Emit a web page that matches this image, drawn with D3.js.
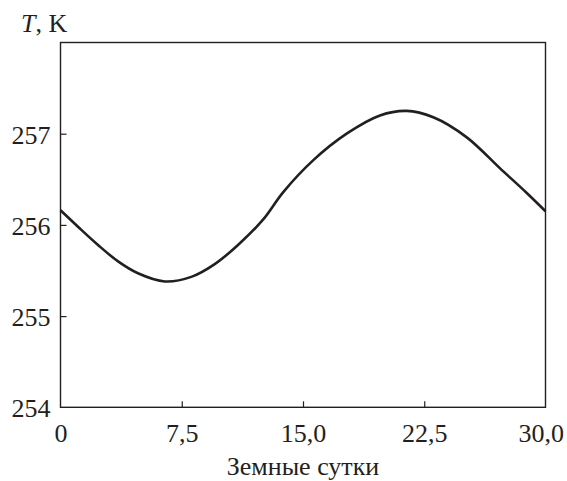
<!DOCTYPE html>
<html>
<head>
<meta charset="utf-8">
<script src="https://cdn.jsdelivr.net/npm/d3@7"></script>
<style>
  html, body { margin: 0; padding: 0; background: #fff; }
</style>
</head>
<body>
<svg id="chart" width="567" height="481"></svg>
<script>
// Surface temperature over one orbital period (Earth days)
const days  = [0, 1.08, 2.32, 3.56, 4.79, 6.45, 8.09, 9.54, 10.98, 12.54, 13.78, 15.64, 17.70, 19.76, 21.41, 23.06, 25.13, 27.19, 28.84, 30];
const temps = [256.16, 255.98, 255.78, 255.60, 255.47, 255.38, 255.43, 255.57, 255.78, 256.06, 256.36, 256.71, 257.00, 257.20, 257.25, 257.18, 256.96, 256.62, 256.35, 256.15];

const xTicks = [0, 7.5, 15, 22.5, 30];
const xTickLabels = ["0", "7,5", "15,0", "22,5", "30,0"];
const yTicks = [254, 255, 256, 257];
const yTickLabels = ["254", "255", "256", "257"];

const ink = "#231f20";
const serif = '"Liberation Serif"';
const svg = d3.select("#chart");
const plotLeft = 60.5, plotRight = 545.5, plotTop = 42.5, plotBottom = 407.3;

const x = d3.scaleLinear().domain([0, 30]).range([plotLeft, plotRight]);
const y = d3.scaleLinear().domain([254, 258]).range([plotBottom, plotTop]);

// frame
svg.append("rect")
  .attr("x", plotLeft).attr("y", plotTop)
  .attr("width", plotRight - plotLeft).attr("height", plotBottom - plotTop)
  .attr("fill", "none").attr("stroke", ink).attr("stroke-width", 1.4);

// bottom axis: inward ticks, labels below
const xAxis = svg.append("g").attr("transform", `translate(0,${plotBottom})`)
  .call(d3.axisBottom(x).tickValues(xTicks).tickSize(-6).tickPadding(16)
    .tickFormat((d, i) => xTickLabels[i]));
xAxis.attr("font-family", null).attr("font-size", null);
xAxis.select(".domain").remove();
xAxis.selectAll(".tick line").attr("stroke", ink).attr("stroke-width", 1.2)
  .filter(d => d === 0 || d === 30).remove();
xAxis.selectAll(".tick text")
  .style("font-family", serif).style("font-size", "26px").attr("fill", ink);
// last label sits flush against the right edge of the page
xAxis.selectAll(".tick text").filter(d => d === 30)
  .attr("text-anchor", "end").attr("x", 18);

// left axis: inward ticks, labels to the left
const yAxis = svg.append("g").attr("transform", `translate(${plotLeft},0)`)
  .call(d3.axisLeft(y).tickValues(yTicks).tickSize(-6).tickPadding(10)
    .tickFormat((d, i) => yTickLabels[i]));
yAxis.attr("font-family", null).attr("font-size", null);
yAxis.select(".domain").remove();
yAxis.selectAll(".tick line").attr("stroke", ink).attr("stroke-width", 1.2)
  .filter(d => d === 254).remove();
yAxis.selectAll(".tick text")
  .style("font-family", serif).style("font-size", "26px")
  .attr("fill", ink).attr("dy", "0.36em");

// temperature curve
const line = d3.line()
  .x((d, i) => x(days[i]))
  .y(d => y(d))
  .curve(d3.curveCatmullRom.alpha(0.5));
svg.append("path")
  .datum(temps)
  .attr("d", line)
  .attr("fill", "none")
  .attr("stroke", ink)
  .attr("stroke-width", 2.6)
  .attr("stroke-linejoin", "round");

// axis titles
const yTitle = svg.append("text")
  .attr("x", 21).attr("y", 32)
  .attr("fill", ink)
  .style("font-family", serif).style("font-size", "26px");
yTitle.append("tspan").style("font-style", "italic").text("T");
yTitle.append("tspan").text(", K");

svg.append("text")
  .attr("x", (plotLeft + plotRight) / 2).attr("y", 475)
  .attr("text-anchor", "middle")
  .attr("fill", ink)
  .style("font-family", serif).style("font-size", "26px")
  .text("Земные сутки");
</script>
</body>
</html>
